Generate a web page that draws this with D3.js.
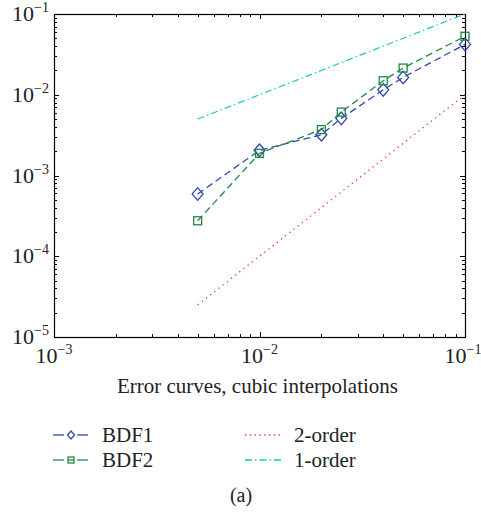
<!DOCTYPE html>
<html>
<head>
<meta charset="utf-8">
<script src="https://cdn.jsdelivr.net/npm/d3@7"></script>
<style>
  body { margin: 0; background: #fff; }
  svg { display: block; }
  text { font-family: 'Liberation Serif', 'DejaVu Serif', serif; fill: #222; }
</style>
</head>
<body>
<svg id="chart" width="481" height="516"></svg>
<script>
// step sizes h and errors
const hValues = [0.005, 0.01, 0.02, 0.025, 0.04, 0.05, 0.1]
const bdf1 = [5.9e-4, 2.05e-3, 3.2e-3, 5.1e-3, 1.15e-2, 1.64e-2, 4.2e-2]
const bdf2 = [2.75e-4, 1.88e-3, 3.7e-3, 6.1e-3, 1.49e-2, 2.14e-2, 5.3e-2]
// reference slopes, two endpoints each
const order2 = [[0.005, 2.5e-5], [0.1, 1e-2]]
const order1 = [[0.005, 5e-3], [0.1, 1e-1]]
const xTicks = [1e-3, 1e-2, 1e-1]
const yTicks = [1e-5, 1e-4, 1e-3, 1e-2, 1e-1]

const colors = { bdf1: '#3347b0', bdf2: '#1e8a42', o2: '#ff3030', o1: '#20c4c4' }

const margin = { left: 54, right: 16, top: 14, bottom: 179 }
const width = 481, height = 516
const svg = d3.select('#chart')

const x = d3.scaleLog().domain([1e-3, 1e-1]).range([margin.left, width - margin.right])
const y = d3.scaleLog().domain([1e-5, 1e-1]).range([height - margin.bottom, margin.top])
const [x0, x1] = x.range()
const [y0, y1] = y.range()

// minor ticks (inward, all four sides)
const minorX = []
for (let e = -3; e < -1; e++) for (let k = 1; k < 10; k++) minorX.push(k * Math.pow(10, e))
minorX.push(1e-1)
const minorY = []
for (let e = -5; e < -1; e++) for (let k = 1; k < 10; k++) minorY.push(k * Math.pow(10, e))
minorY.push(1e-1)

const isMajor = (list, v) => list.some(t => Math.abs(t - v) < v * 1e-6)
const ticks = svg.append('g').attr('stroke', '#000').attr('stroke-width', 1)
minorX.forEach(v => {
  const len = isMajor(xTicks, v) ? 5 : 3
  const px = Math.round(x(v)) + 0.5
  ticks.append('line').attr('x1', px).attr('x2', px).attr('y1', y0).attr('y2', y0 - len)
  ticks.append('line').attr('x1', px).attr('x2', px).attr('y1', y1).attr('y2', y1 + len)
})
minorY.forEach(v => {
  const len = isMajor(yTicks, v) ? 5 : 3
  const py = Math.round(y(v)) + 0.5
  ticks.append('line').attr('x1', x0).attr('x2', x0 + len).attr('y1', py).attr('y2', py)
  ticks.append('line').attr('x1', x1).attr('x2', x1 - len).attr('y1', py).attr('y2', py)
})

// frame
svg.append('rect')
  .attr('x', x0 + 0.5).attr('y', y1 + 0.5)
  .attr('width', x1 - x0).attr('height', y0 - y1)
  .attr('fill', 'none').attr('stroke', '#000').attr('stroke-width', 1.2)

// tick labels as 10^n
const expOf = v => Math.round(Math.log10(v))
const addPow = (g, v, px, py, anchor) => {
  const t = g.append('text').attr('x', px).attr('y', py).attr('text-anchor', anchor).attr('font-size', 22)
  t.append('tspan').text('10')
  t.append('tspan').attr('dy', -9).attr('font-size', 14).text('\u2212' + Math.abs(expOf(v)))
}
const labels = svg.append('g')
xTicks.forEach(v => addPow(labels, v, Math.min(x(v), width - 18), y0 + 26, 'middle'))
yTicks.forEach(v => addPow(labels, v, x0 - 5, y(v) + 7, 'end'))

svg.append('text')
  .attr('x', (x0 + x1) / 2 - 2).attr('y', y0 + 56)
  .attr('text-anchor', 'middle').attr('font-size', 21)
  .text('Error curves, cubic interpolations')

const line = d3.line().x(d => x(d[0])).y(d => y(d[1]))
const plot = svg.append('g')

plot.append('path').datum(order1).attr('d', line)
  .attr('fill', 'none').attr('stroke', colors.o1).attr('stroke-width', 1.2)
  .attr('stroke-dasharray', '7,3,1.5,3')
plot.append('path').datum(order2).attr('d', line)
  .attr('fill', 'none').attr('stroke', colors.o2).attr('stroke-width', 1.3)
  .attr('stroke-dasharray', '1.3,4')

const series = [
  { name: 'BDF1', vals: bdf1, color: colors.bdf1, marker: 'diamond' },
  { name: 'BDF2', vals: bdf2, color: colors.bdf2, marker: 'square' }
]
const drawMarker = (g, type, cx, cy, s, color) => {
  if (type === 'diamond') {
    g.append('path')
      .attr('d', `M${cx},${cy - s * 1.15}L${cx + s},${cy}L${cx},${cy + s * 1.15}L${cx - s},${cy}Z`)
      .attr('fill', 'none').attr('stroke', color).attr('stroke-width', 1.3)
  } else {
    g.append('rect').attr('x', cx - s).attr('y', cy - s).attr('width', 2 * s).attr('height', 2 * s)
      .attr('fill', 'none').attr('stroke', color).attr('stroke-width', 1.3)
  }
}
series.forEach(s => {
  const pts = hValues.map((h, i) => [h, s.vals[i]])
  plot.append('path').datum(pts).attr('d', line)
    .attr('fill', 'none').attr('stroke', s.color).attr('stroke-width', 1.3)
    .attr('stroke-dasharray', '7,4')
  pts.forEach(p => drawMarker(plot, s.marker, x(p[0]), y(p[1]), s.marker === 'diamond' ? 5.5 : 4, s.color))
})

// legend
const legend = svg.append('g')
const legendItems = [
  { name: 'BDF1', color: colors.bdf1, dash: '7,4', marker: 'diamond', col: 0, row: 0 },
  { name: 'BDF2', color: colors.bdf2, dash: '7,4', marker: 'square', col: 0, row: 1 },
  { name: '2-order', color: colors.o2, dash: '1.3,3.5', marker: null, col: 1, row: 0 },
  { name: '1-order', color: colors.o1, dash: '7,3,1.5,3', marker: null, col: 1, row: 1 }
]
legendItems.forEach(d => {
  const lx = 53 + d.col * 192
  const ly = 435 + d.row * 25
  if (d.marker) {
    legend.append('line').attr('x1', lx).attr('x2', lx + 11).attr('y1', ly).attr('y2', ly)
      .attr('stroke', d.color).attr('stroke-width', 1.3)
    legend.append('line').attr('x1', lx + 24).attr('x2', lx + 35).attr('y1', ly).attr('y2', ly)
      .attr('stroke', d.color).attr('stroke-width', 1.3)
    drawMarker(legend, d.marker, lx + 18, ly, d.marker === 'diamond' ? 3.5 : 3, d.color)
    if (d.marker === 'square') {
      legend.append('line').attr('x1', lx + 15).attr('x2', lx + 21).attr('y1', ly).attr('y2', ly)
        .attr('stroke', d.color).attr('stroke-width', 1.3)
    }
  } else {
    legend.append('line').attr('x1', lx).attr('x2', lx + 36).attr('y1', ly).attr('y2', ly)
      .attr('stroke', d.color).attr('stroke-width', 1.3).attr('stroke-dasharray', d.dash)
  }
  legend.append('text').attr('x', lx + 49).attr('y', ly + 7).attr('font-size', 21).text(d.name)
})

svg.append('text').attr('x', 241).attr('y', 502).attr('text-anchor', 'middle')
  .attr('font-size', 20).text('(a)')
</script>
</body>
</html>
